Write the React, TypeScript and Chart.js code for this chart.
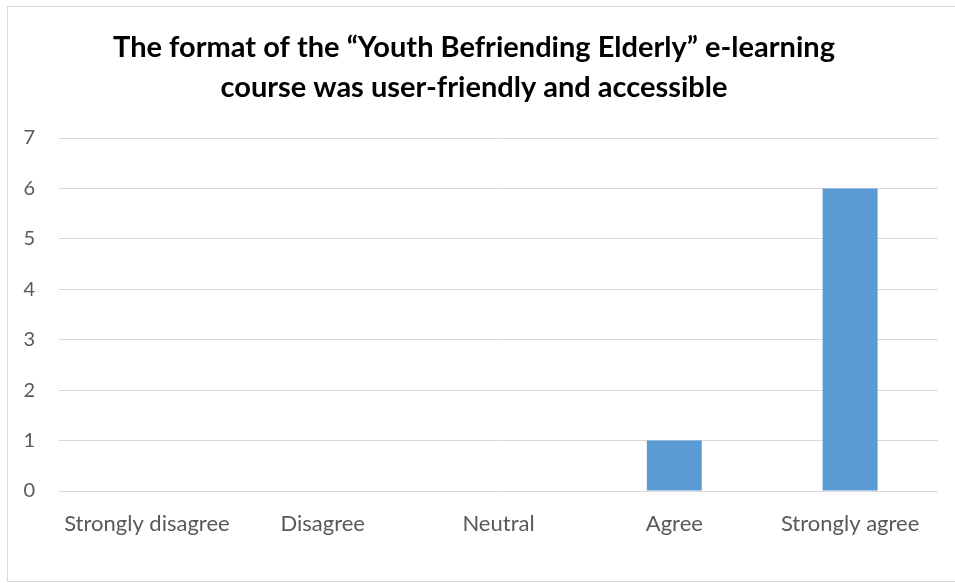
import React, { useEffect, useRef } from "react";
import { Chart, registerables } from "chart.js";

Chart.register(...registerables);

const categories = ["Strongly disagree", "Disagree", "Neutral", "Agree", "Strongly agree"];
const counts = [0, 0, 0, 1, 6];
const titleLines = [
  "The format of the \u201cYouth Befriending Elderly\u201d e-learning",
  "course was user-friendly and accessible",
];
const yMin = 0;
const yMax = 7;

export default function App() {
  const ref = useRef<HTMLCanvasElement | null>(null);

  useEffect(() => {
    document.body.style.margin = "0";
    const ctx = ref.current;
    if (!ctx) return;
    const chart = new Chart(ctx, {
      type: "bar",
      data: {
        labels: categories,
        datasets: [
          {
            data: counts,
            backgroundColor: "#5B9BD5",
            borderWidth: 0,
            categoryPercentage: 1,
            barPercentage: 0.3125,
          },
        ],
      },
      options: {
        animation: false,
        responsive: false,
        devicePixelRatio: 1,
        layout: { padding: { left: 10, right: 17, top: 0, bottom: 0 } },
        plugins: {
          legend: { display: false },
          tooltip: { enabled: false },
          title: {
            display: true,
            text: titleLines,
            color: "#000000",
            font: { family: "Lato", size: 29, weight: "bold", lineHeight: "40px" },
            padding: { top: 28, bottom: 30 },
          },
        },
        scales: {
          x: {
            grid: { display: false, drawTicks: false },
            border: { display: false },
            ticks: {
              color: "#595959",
              font: { family: "Lato", size: 22 },
              padding: 20,
              maxRotation: 0,
              autoSkip: false,
            },
            afterFit: (scale: any) => {
              scale.height = 583 - 491;
            },
          },
          y: {
            min: yMin,
            max: yMax,
            grid: { color: "#d9d9d9", lineWidth: 1, drawTicks: false },
            border: { display: false },
            ticks: {
              stepSize: 1,
              color: "#595959",
              font: { family: "Lato", size: 20 },
              padding: 24,
            },
            afterFit: (scale: any) => {
              scale.width = 49;
            },
          },
        },
      },
    });
    return () => chart.destroy();
  }, []);

  return (
    <div style={{ position: "absolute", left: 0, top: 0, width: 955, height: 583, overflow: "hidden", background: "#fff" }}>
      <div
        style={{
          position: "absolute",
          left: 7,
          top: 6,
          width: 980,
          height: 576,
          border: "1px solid #d9d9d9",
          boxSizing: "border-box",
        }}
      />
      <canvas ref={ref} width={955} height={583} style={{ position: "absolute", left: 0, top: 0 }} />
    </div>
  );
}
